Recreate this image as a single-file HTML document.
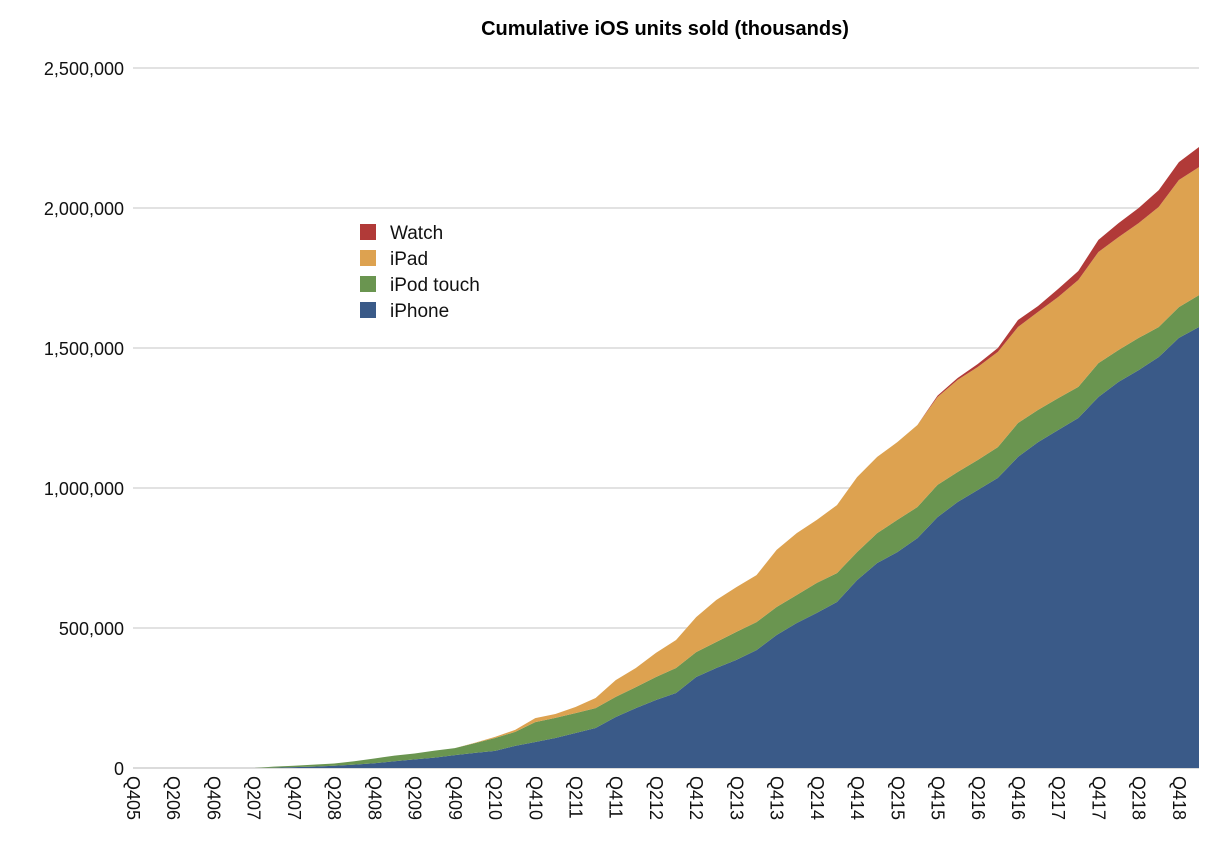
<!DOCTYPE html>
<html><head><meta charset="utf-8"><style>
body{margin:0;background:#fff;font-family:"Liberation Sans",Arial,sans-serif}
svg{display:block}
</style></head><body>
<svg id="chart" width="1224" height="848" xmlns="http://www.w3.org/2000/svg">
<text x="665" y="35" text-anchor="middle" font-size="20" font-weight="bold" font-family="Liberation Sans, Arial, sans-serif">Cumulative iOS units sold (thousands)</text>
<g id="grid"></g>
<g id="areas"></g>
<g id="yaxis"></g>
<g id="xaxis"></g>
<g id="legend"></g>
</svg>
<script>
const quarters = ["Q405","Q106","Q206","Q306","Q406","Q107","Q207","Q307","Q407","Q108","Q208","Q308","Q408","Q109","Q209","Q309","Q409","Q110","Q210","Q310","Q410","Q111","Q211","Q311","Q411","Q112","Q212","Q312","Q412","Q113","Q213","Q313","Q413","Q114","Q214","Q314","Q414","Q115","Q215","Q315","Q415","Q116","Q216","Q316","Q416","Q117","Q217","Q317","Q417","Q118","Q218","Q318","Q418","Q119"];
const iphone = [0,0,0,0,0,0,0,1,3,5,8,12,17,24,31,37,46,54,61,79,93,107,125,143,182,214,243,268,325,357,386,421,475,518,554,593,671,732,771,821,896,950,993,1036,1111,1164,1207,1250,1325,1379,1421,1468,1536,1575];
const ipod = [0,0,0,0,0,0,0,4,5,7,8,12,17,20,21,25,25,35,46,50,71,72,71,71,72,75,82,89,89,93,100,100,100,100,107,103,100,107,115,111,115,107,107,110,121,115,114,111,121,114,115,107,110,114];
const ipad = [0,0,0,0,0,0,0,0,0,0,0,0,0,0,0,0,0,1,4,7,14,14,22,36,60,68,86,100,125,150,160,168,204,221,225,243,268,272,278,293,314,329,332,340,343,350,361,382,397,403,410,429,454,457];
const watch = [0,0,0,0,0,0,0,0,0,0,0,0,0,0,0,0,0,0,0,0,0,0,0,0,0,0,0,0,0,0,0,0,0,0,0,0,0,0,0,0,5,7,11,14,25,21,29,32,43,50,54,60,64,72];
const seriesNames = ["iPhone","iPod touch","iPad","Watch"];
const yTicks = [0,500000,1000000,1500000,2000000,2500000];
const yTickLabels = ["0","500,000","1,000,000","1,500,000","2,000,000","2,500,000"];

const NS="http://www.w3.org/2000/svg";
const colors=["#3a5a88","#6a9550","#dda250","#b13a38"];
const x0=133, x1=1199, yBase=768, yTop=68, yMax=2500000;
const xs=i=>x0+i*(x1-x0)/(quarters.length-1);
const ys=v=>yBase-(v/yMax)*(yBase-yTop);
function mk(tag,attrs,parent){const e=document.createElementNS(NS,tag);for(const k in attrs)e.setAttribute(k,attrs[k]);parent.appendChild(e);return e;}

const grid=document.getElementById('grid');
yTicks.forEach((t,k)=>{
  const l=mk('line',{x1:x0,x2:x1,y1:ys(t),y2:ys(t),stroke:k===0?'#cfcfcf':'#d9d9d9','stroke-width':1.5},grid);
  
  
  const tx=mk('text',{x:124,y:ys(t)+7,'text-anchor':'end','font-size':18,fill:'#111'},document.getElementById('yaxis'));
  tx.textContent=yTickLabels[k];
  
  
});

const all=[iphone,ipod,ipad,watch];
const areas=document.getElementById('areas');
let lower=quarters.map(()=>0);
all.forEach((s,si)=>{
  const upper=s.map((v,i)=>lower[i]+v*1000);
  let d='M'+xs(0)+','+ys(upper[0]);
  for(let i=1;i<upper.length;i++)d+=' L'+xs(i)+','+ys(upper[i]);
  for(let i=upper.length-1;i>=0;i--)d+=' L'+xs(i)+','+ys(lower[i]);
  d+='Z';
  const p=mk('path',{d:d,fill:colors[si]},areas);
  
  
  lower=upper;
});

const xa=document.getElementById('xaxis');
quarters.forEach((q,i)=>{
  if(i%2!==0)return;
  const t=mk('text',{x:0,y:0,'font-size':18,fill:'#111',transform:'translate('+(xs(i)-6)+',776) rotate(90)'},xa);
  t.textContent=q;
  
  
});

const lg=document.getElementById('legend');
[3,2,1,0].forEach((si,r)=>{
  const y=224+r*26;
  const g=mk('g',{},lg);
  
  
  mk('rect',{x:360,y:y,width:16,height:16,fill:colors[si]},g);
  const t=mk('text',{x:390,y:y+15,'font-size':19,fill:'#111'},g);
  t.textContent=seriesNames[si];
});
</script>
</body></html>
